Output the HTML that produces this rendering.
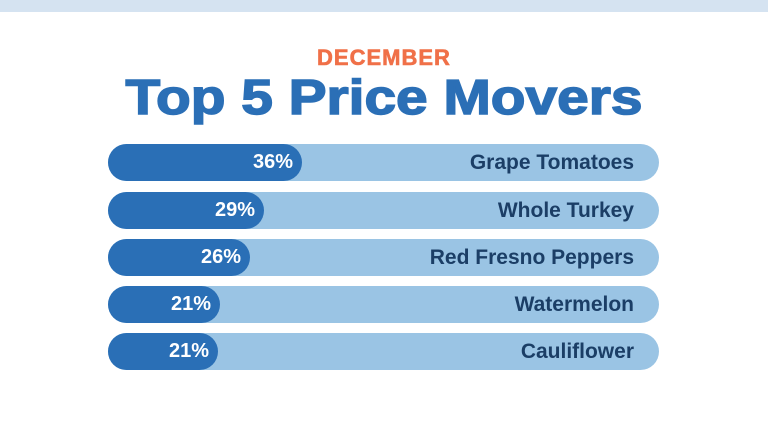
<!DOCTYPE html><html><head><style>
body{margin:0;width:768px;height:447px;background:#fff;position:relative;overflow:hidden;font-family:"Liberation Sans",sans-serif}
.top{position:absolute;left:0;top:0;width:768px;height:12px;background:#d5e3f1}
.sub{position:absolute;top:45px;width:768px;text-align:center;color:#f07048;font-weight:bold;font-size:22px;letter-spacing:1px;-webkit-text-stroke:0.6px #f07048}
.title{position:absolute;top:70px;left:0;width:768px;text-align:center;color:#2b6fb6;font-weight:900;font-size:49px;transform:scaleX(1.16);-webkit-text-stroke:1.5px #2b6fb6;}
.bar{position:absolute;left:108px;width:551px;height:37px;border-radius:19px;background:#9ac4e4}
.dk{position:absolute;left:0;top:0;height:37px;border-radius:19px;background:#2a6fb6;color:#fff;font-weight:bold;font-size:20px;line-height:37px;text-align:right;box-sizing:border-box;padding-right:9px}
.lb{position:absolute;right:25px;top:0;line-height:37px;color:#1b3e66;font-weight:bold;font-size:21px}
</style></head><body>
<div class="top"></div>
<div class="sub">DECEMBER</div>
<div class="title">Top 5 Price Movers</div>
<div class="bar" style="top:144px"><div class="dk" style="width:194px">36%</div><div class="lb">Grape Tomatoes</div></div>
<div class="bar" style="top:192px"><div class="dk" style="width:156px">29%</div><div class="lb">Whole Turkey</div></div>
<div class="bar" style="top:239px"><div class="dk" style="width:142px">26%</div><div class="lb">Red Fresno Peppers</div></div>
<div class="bar" style="top:286px"><div class="dk" style="width:112px">21%</div><div class="lb">Watermelon</div></div>
<div class="bar" style="top:333px"><div class="dk" style="width:110px">21%</div><div class="lb">Cauliflower</div></div>
</body></html>
